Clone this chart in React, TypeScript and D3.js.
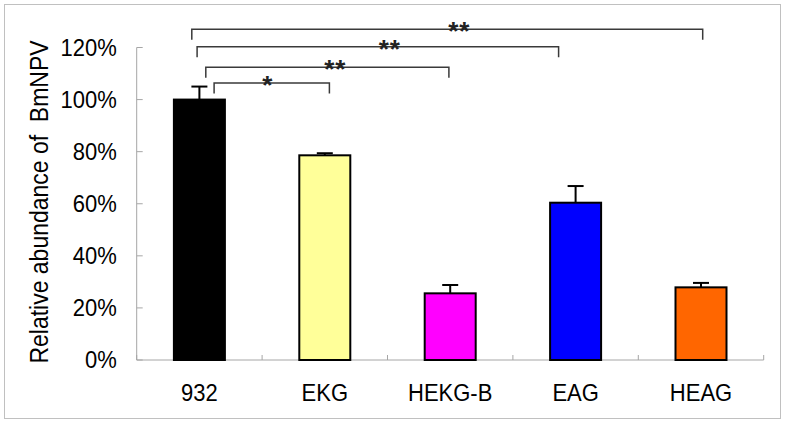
import React from "react";
import * as d3 from "d3";

const categories = ["932", "EKG", "HEKG-B", "EAG", "HEAG"];
const values = [1.0, 0.786, 0.256, 0.604, 0.279];
const errors = [0.05, 0.008, 0.032, 0.064, 0.017];
const colors = ["#000000", "#FFFF99", "#FF00FF", "#0000FF", "#FF6600"];
const yTicks = [0, 0.2, 0.4, 0.6, 0.8, 1.0, 1.2];
const compFrom = [0, 0, 0, 0];
const compTo = [1, 2, 3, 4];
const compLabels = ["*", "**", "**", "**"];

// layout for significance brackets (pixel offsets relative to band centres)
const bracketLevel = [83, 67.3, 46.7, 29.3];
const bracketLeftOff = [14.7, 6.4, -2.3, -7.6];
const bracketRightOff = [4.6, -1.3, -17, 1.7];
const bracketLabelOff = [-4, 8, 12, 12];

export default function App() {
  const W = 788, H = 424;
  const x0 = 136.7, x1 = 763.7;
  const x = d3.scaleBand<string>().domain(categories).range([x0, x1]).padding(0);
  const y = d3.scaleLinear().domain([0, 1.2]).range([360, 47.5]);
  const barW = 51;
  const capW = 16;
  const axisColor = "#a6a6a6";
  const font = "'Liberation Sans', Arial, sans-serif";
  const cx = (i: number) => (x(categories[i]) as number) + x.bandwidth() / 2;
  const sy = 1.1; // vertical stretch of the text

  return (
    <svg width={W} height={H} style={{ position: "absolute", left: 0, top: 0 }} fontFamily={font}>
      <rect x={0} y={0} width={W} height={H} fill="#fff" />
      <rect x={4.5} y={4.5} width={776} height={414} fill="none" stroke="#c0c0c0" strokeWidth={1} />

      {/* y axis */}
      <line x1={x0} x2={x0} y1={y(0)} y2={y(1.2)} stroke={axisColor} strokeWidth={1} />
      {yTicks.map((t) => (
        <g key={t}>
          <line x1={x0} x2={x0 + 6} y1={y(t)} y2={y(t)} stroke={axisColor} strokeWidth={1} />
          <text transform={`translate(116.7,${y(t)}) scale(1,${sy})`} dy="0.35em" textAnchor="end" fontSize={22} fill="#000">
            {d3.format(".0%")(t)}
          </text>
        </g>
      ))}

      {/* x axis */}
      <line x1={x0} x2={x1} y1={y(0)} y2={y(0)} stroke={axisColor} strokeWidth={1} />
      {categories.map((c) => (
        <line key={"t" + c} x1={x(c) as number} x2={x(c) as number} y1={y(0)} y2={y(0) - 5}
          stroke={axisColor} strokeWidth={1} />
      ))}
      <line x1={x1} x2={x1} y1={y(0)} y2={y(0) - 5} stroke={axisColor} strokeWidth={1} />

      {/* bars */}
      {categories.map((c, i) => (
        <g key={c}>
          <line x1={cx(i)} x2={cx(i)} y1={y(values[i])} y2={y(values[i] + errors[i])} stroke="#000" strokeWidth={2} />
          <line x1={cx(i) - capW / 2} x2={cx(i) + capW / 2} y1={y(values[i] + errors[i])} y2={y(values[i] + errors[i])}
            stroke="#000" strokeWidth={2} />
          <rect x={cx(i) - barW / 2} y={y(values[i])} width={barW} height={y(0) - y(values[i])}
            fill={colors[i]} stroke="#000" strokeWidth={2} />
          <text transform={`translate(${cx(i)},401) scale(1,${sy})`} textAnchor="middle" fontSize={22} fill="#000">{c}</text>
        </g>
      ))}

      {/* significance brackets */}
      {compFrom.map((f, k) => {
        const lx = cx(f) + bracketLeftOff[k];
        const rx = cx(compTo[k]) + bracketRightOff[k];
        const ly = bracketLevel[k];
        return (
          <g key={"b" + k}>
            <path d={`M${lx},${ly + 10.5}V${ly}H${rx}V${ly + 10.5}`} fill="none" stroke="#3a3a3a" strokeWidth={1.5} />
            <text x={(lx + rx) / 2 + bracketLabelOff[k]} y={ly + 11} textAnchor="middle" fontSize={26}
              fontWeight="bold" letterSpacing={1} fill="#222">{compLabels[k]}</text>
          </g>
        );
      })}

      {/* y title */}
      <text transform={`translate(48,202) rotate(-90) scale(1,${sy})`} textAnchor="middle" fontSize={23} fill="#000"
        style={{ whiteSpace: "pre" }}>
        {"Relative abundance of  BmNPV"}
      </text>
    </svg>
  );
}
